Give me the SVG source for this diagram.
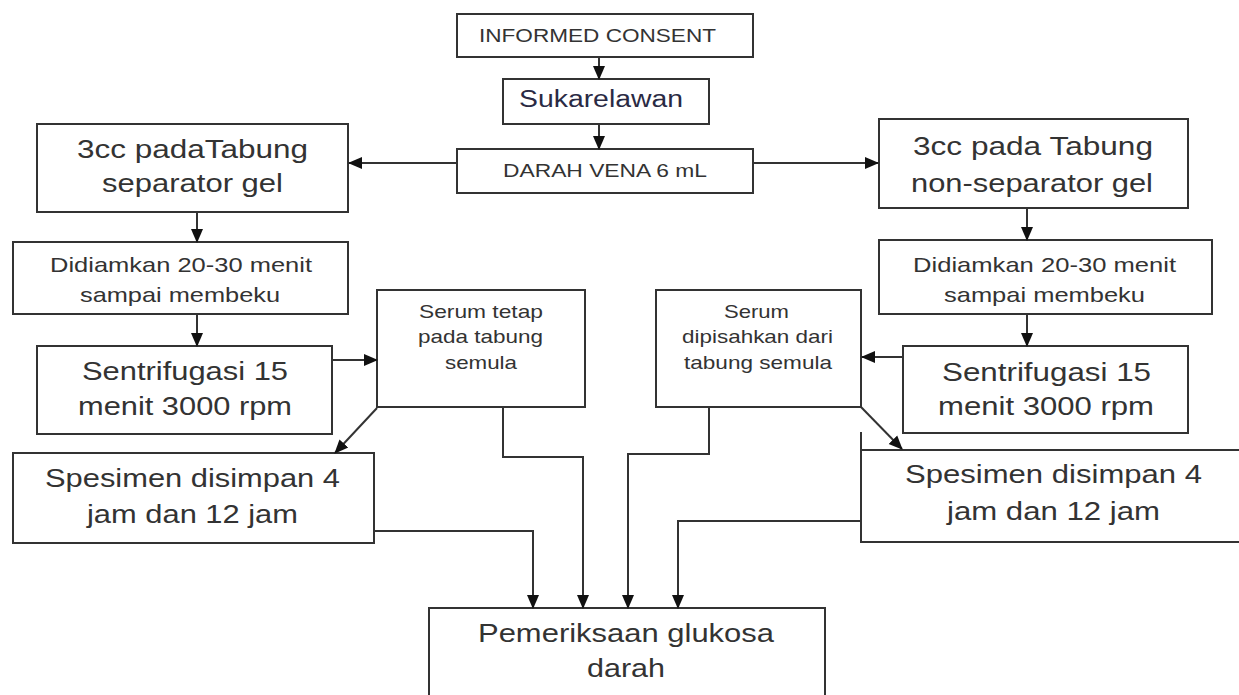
<svg xmlns="http://www.w3.org/2000/svg" width="1239" height="695" viewBox="0 0 1239 695">
<defs>
<style>
.box{fill:#fff;stroke:#333;stroke-width:2}
.ln{fill:none;stroke:#333;stroke-width:2}
text{font-family:"Liberation Sans",Arial,sans-serif;fill:#333}
.t18{font-size:19px}
.t17{font-size:19px}
.t20{font-size:21px}
.t23{font-size:26px}
.suk{font-size:23px;fill:#2a2a44}
</style>
<marker id="ah" markerUnits="userSpaceOnUse" markerWidth="14" markerHeight="14" viewBox="0 0 14 14" refX="13" refY="7" orient="auto">
<path d="M0,1 L14,7 L0,13 Z" fill="#111"/>
</marker>
</defs>
<rect width="1239" height="695" fill="#fff"/>

<g id="n-consent">
<rect class="box" x="457" y="14" width="296" height="43"/>
<text class="t18" x="479" y="42" textLength="237" lengthAdjust="spacingAndGlyphs">INFORMED CONSENT</text>
</g>
<g id="n-sukarelawan">
<rect class="box" x="503" y="79" width="206" height="45"/>
<text class="suk" x="519" y="107" textLength="164" lengthAdjust="spacingAndGlyphs">Sukarelawan</text>
</g>
<g id="n-darah">
<rect class="box" x="457" y="149" width="296" height="44"/>
<text class="t18" x="503" y="177" textLength="204" lengthAdjust="spacingAndGlyphs">DARAH VENA 6 mL</text>
</g>

<g id="n-left-tabung">
<rect class="box" x="37" y="124" width="311" height="88"/>
<text class="t23" x="77" y="158" textLength="231" lengthAdjust="spacingAndGlyphs">3cc padaTabung</text>
<text class="t23" x="102" y="192" textLength="181" lengthAdjust="spacingAndGlyphs">separator gel</text>
</g>
<g id="n-left-diam">
<rect class="box" x="13" y="242" width="335" height="72"/>
<text class="t20" x="50" y="272" textLength="262" lengthAdjust="spacingAndGlyphs">Didiamkan 20-30 menit</text>
<text class="t20" x="80" y="302" textLength="200" lengthAdjust="spacingAndGlyphs">sampai membeku</text>
</g>
<g id="n-left-sentri">
<rect class="box" x="37" y="346" width="295" height="88"/>
<text class="t23" x="82" y="380" textLength="206" lengthAdjust="spacingAndGlyphs">Sentrifugasi 15</text>
<text class="t23" x="78" y="415" textLength="214" lengthAdjust="spacingAndGlyphs">menit 3000 rpm</text>
</g>
<g id="n-serum-tetap">
<rect class="box" x="377" y="290" width="208" height="117"/>
<text class="t17" x="419" y="318" textLength="124" lengthAdjust="spacingAndGlyphs">Serum tetap</text>
<text class="t17" x="418" y="343" textLength="125" lengthAdjust="spacingAndGlyphs">pada tabung</text>
<text class="t17" x="445" y="369" textLength="72" lengthAdjust="spacingAndGlyphs">semula</text>
</g>
<g id="n-left-spesimen">
<rect class="box" x="13" y="453" width="361" height="90"/>
<text class="t23" x="45" y="487" textLength="295" lengthAdjust="spacingAndGlyphs">Spesimen disimpan 4</text>
<text class="t23" x="87" y="523" textLength="211" lengthAdjust="spacingAndGlyphs">jam dan 12 jam</text>
</g>

<g id="n-right-tabung">
<rect class="box" x="879" y="119" width="309" height="89"/>
<text class="t23" x="913" y="155" textLength="240" lengthAdjust="spacingAndGlyphs">3cc pada Tabung</text>
<text class="t23" x="911" y="192" textLength="242" lengthAdjust="spacingAndGlyphs">non-separator gel</text>
</g>
<g id="n-right-diam">
<rect class="box" x="879" y="240" width="333" height="74"/>
<text class="t20" x="913" y="272" textLength="263" lengthAdjust="spacingAndGlyphs">Didiamkan 20-30 menit</text>
<text class="t20" x="944" y="302" textLength="201" lengthAdjust="spacingAndGlyphs">sampai membeku</text>
</g>
<g id="n-right-sentri">
<rect class="box" x="903" y="346" width="285" height="87"/>
<text class="t23" x="942" y="381" textLength="209" lengthAdjust="spacingAndGlyphs">Sentrifugasi 15</text>
<text class="t23" x="938" y="415" textLength="216" lengthAdjust="spacingAndGlyphs">menit 3000 rpm</text>
</g>
<g id="n-serum-pisah">
<rect class="box" x="656" y="290" width="205" height="117"/>
<text class="t17" x="724" y="318" textLength="65" lengthAdjust="spacingAndGlyphs">Serum</text>
<text class="t17" x="682" y="343" textLength="151" lengthAdjust="spacingAndGlyphs">dipisahkan dari</text>
<text class="t17" x="684" y="369" textLength="148" lengthAdjust="spacingAndGlyphs">tabung semula</text>
</g>
<g id="n-right-spesimen">
<path class="ln" d="M861,432 V542 H1241 M861,450 H1241"/>
<text class="t23" x="905" y="483" textLength="297" lengthAdjust="spacingAndGlyphs">Spesimen disimpan 4</text>
<text class="t23" x="947" y="520" textLength="213" lengthAdjust="spacingAndGlyphs">jam dan 12 jam</text>
</g>

<g id="n-pemeriksaan">
<rect class="box" x="429" y="608" width="396" height="100"/>
<text class="t23" x="478" y="642" textLength="296" lengthAdjust="spacingAndGlyphs">Pemeriksaan glukosa</text>
<text class="t23" x="587" y="677" textLength="78" lengthAdjust="spacingAndGlyphs">darah</text>
</g>

<g id="connectors">
<path class="ln" d="M599,57 V79" marker-end="url(#ah)"/>
<path class="ln" d="M599,124 V149" marker-end="url(#ah)"/>
<path class="ln" d="M457,163 H349" marker-end="url(#ah)"/>
<path class="ln" d="M753,163 H878" marker-end="url(#ah)"/>
<path class="ln" d="M197,212 V242" marker-end="url(#ah)"/>
<path class="ln" d="M197,314 V346" marker-end="url(#ah)"/>
<path class="ln" d="M332,360 H377" marker-end="url(#ah)"/>
<path class="ln" d="M377,408 L335,453" marker-end="url(#ah)"/>
<path class="ln" d="M503,407 V457 H583 V608" marker-end="url(#ah)"/>
<path class="ln" d="M374,531 H533 V608" marker-end="url(#ah)"/>
<path class="ln" d="M1027,208 V240" marker-end="url(#ah)"/>
<path class="ln" d="M1027,314 V346" marker-end="url(#ah)"/>
<path class="ln" d="M903,357 H862" marker-end="url(#ah)"/>
<path class="ln" d="M861,407 L902,449" marker-end="url(#ah)"/>
<path class="ln" d="M709,407 V454 H628 V608" marker-end="url(#ah)"/>
<path class="ln" d="M861,521 H678 V608" marker-end="url(#ah)"/>
</g>
</svg>
